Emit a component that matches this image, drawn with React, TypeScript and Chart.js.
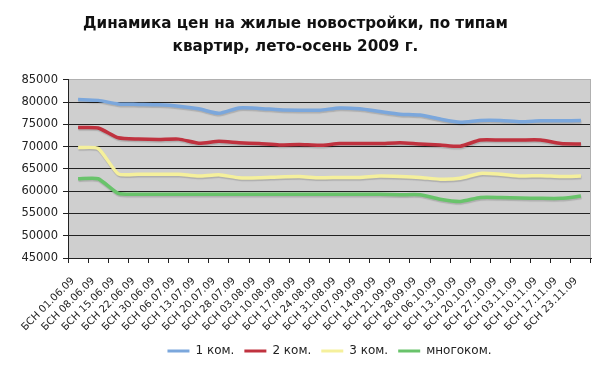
import React, { useEffect, useRef } from "react";
import { Chart, registerables } from "chart.js";

Chart.register(...registerables);

const categories = [
  "БСН 01.06.09", "БСН 08.06.09", "БСН 15.06.09", "БСН 22.06.09", "БСН 30.06.09",
  "БСН 06.07.09", "БСН 13.07.09", "БСН 20.07.09", "БСН 28.07.09", "БСН 03.08.09",
  "БСН 10.08.09", "БСН 17.08.09", "БСН 24.08.09", "БСН 31.08.09", "БСН 07.09.09",
  "БСН 14.09.09", "БСН 21.09.09", "БСН 28.09.09", "БСН 06.10.09", "БСН 13.10.09",
  "БСН 20.10.09", "БСН 27.10.09", "БСН 03.11.09", "БСН 10.11.09", "БСН 17.11.09",
  "БСН 23.11.09",
];

const oneRoom = [
  80600, 80400, 79600, 79500, 79400, 79100, 78500, 77500, 78700, 78600,
  78300, 78200, 78200, 78700, 78500, 77900, 77300, 77100, 76200, 75500,
  75900, 75900, 75600, 75800, 75800, 75900,
];
const twoRoom = [
  74300, 74200, 72000, 71700, 71600, 71700, 70800, 71200, 70900, 70700,
  70400, 70500, 70300, 70700, 70700, 70700, 70900, 70600, 70400, 70100,
  71500, 71500, 71500, 71500, 70700, 70600,
];
const threeRoom = [
  69800, 69600, 63900, 63800, 63800, 63800, 63400, 63700, 63000, 63000,
  63200, 63300, 63000, 63100, 63100, 63400, 63300, 63100, 62700, 62900,
  64000, 63800, 63400, 63500, 63300, 63400,
];
const multiRoom = [
  62800, 62800, 59500, 59300, 59300, 59300, 59300, 59300, 59300, 59300,
  59300, 59300, 59300, 59300, 59300, 59300, 59200, 59200, 58200, 57700,
  58600, 58600, 58500, 58400, 58400, 58900,
];

const seriesNames = ["1 ком.", "2 ком.", "3 ком.", "многоком."];
const seriesColors = ["#7ba7dc", "#c0323f", "#f5f09c", "#69c36b"];
const titleLines = [
  "Динамика цен на жилые новостройки, по типам",
  "квартир, лето-осень 2009 г.",
];
const yMin = 45000;
const yMax = 85000;
const yStep = 5000;

const FONT = "'DejaVu Sans', Verdana, sans-serif";

export default function App() {
  const ref = useRef<HTMLCanvasElement>(null);

  useEffect(() => {
    if (!ref.current) return;
    const series = [oneRoom, twoRoom, threeRoom, multiRoom];

    const plotBg = {
      id: "plotBg",
      beforeDraw(chart: any) {
        const { ctx, chartArea: a } = chart;
        ctx.save();
        ctx.fillStyle = "#cfcfcf";
        ctx.fillRect(a.left, a.top, a.right - a.left, a.bottom - a.top);
        ctx.restore();
      },
      beforeDatasetsDraw(chart: any) {
        const { ctx, chartArea: a } = chart;
        ctx.save();
        ctx.strokeStyle = "#b0b0b0";
        ctx.lineWidth = 1;
        ctx.beginPath();
        ctx.moveTo(a.right - 0.5, a.top);
        ctx.lineTo(a.right - 0.5, a.bottom);
        ctx.stroke();
        ctx.restore();
      },
      beforeDatasetDraw(chart: any) {
        const ctx = chart.ctx;
        ctx.save();
        ctx.shadowColor = "rgba(0,0,0,0.16)";
        ctx.shadowBlur = 1;
        ctx.shadowOffsetX = 0.5;
        ctx.shadowOffsetY = 1.5;
      },
      afterDatasetDraw(chart: any) {
        chart.ctx.restore();
      },
    };

    const chart = new Chart(ref.current, {
      type: "line",
      data: {
        labels: categories,
        datasets: series.map((d, i) => ({
          label: seriesNames[i],
          data: d,
          borderColor: seriesColors[i],
          backgroundColor: seriesColors[i],
          borderWidth: 3.5,
          pointRadius: 0,
          tension: 0.2,
          fill: false,
        })),
      },
      options: {
        animation: false,
        responsive: false,
        layout: { padding: { left: 0, right: 9, top: 0, bottom: -2 } },
        plugins: {
          title: {
            display: true,
            text: titleLines,
            color: "#111",
            font: { family: FONT, size: 15.2, weight: "bold", lineHeight: 1.51 },
            padding: { top: 13, bottom: 21 },
          },
          legend: {
            position: "bottom",
            fullSize: false,
            labels: {
              boxWidth: 22,
              boxHeight: 3,
              padding: 10,
              color: "#222",
              font: { family: FONT, size: 12 },
              generateLabels: (c: any) =>
                c.data.datasets.map((ds: any, i: number) => ({
                  text: ds.label,
                  fillStyle: seriesColors[i],
                  strokeStyle: seriesColors[i],
                  lineWidth: 0,
                  hidden: false,
                  datasetIndex: i,
                  fontColor: "#222",
                })),
            },
          },
          tooltip: { enabled: false },
        },
        scales: {
          x: {
            offset: true,
            grid: {
              offset: true,
              drawOnChartArea: false,
              drawTicks: true,
              tickLength: 5,
              color: "#222",
            },
            border: { color: "#222", width: 1 },
            ticks: {
              autoSkip: false,
              maxRotation: 45,
              minRotation: 45,
              padding: 12,
              labelOffset: -5,
              color: "#222",
              font: { family: FONT, size: 10.2 },
            },
            afterFit(scale: any) {
              scale.height = 77;
              scale.paddingLeft = 0;
              scale.paddingRight = 0;
            },
          },
          y: {
            min: yMin,
            max: yMax,
            ticks: {
              stepSize: yStep,
              padding: 5,
              color: "#222",
              font: { family: FONT, size: 11.5 },
              callback: (v: any) => String(v),
            },
            grid: {
              color: (ctx: any) => (ctx.tick && ctx.tick.value === yMax ? "#b0b0b0" : "#222"),
              tickColor: "#222",
              tickLength: 5,
              lineWidth: 1,
            },
            border: { color: "#222", width: 1 },
            afterFit(scale: any) {
              scale.width = 68;
            },
          },
        },
      },
      plugins: [plotBg],
    } as any);

    return () => chart.destroy();
  }, []);

  return (
    <div style={{ position: "absolute", left: 0, top: 0, width: 600, height: 365 }}>
      <canvas ref={ref} width={600} height={365} style={{ display: "block" }} />
    </div>
  );
}
